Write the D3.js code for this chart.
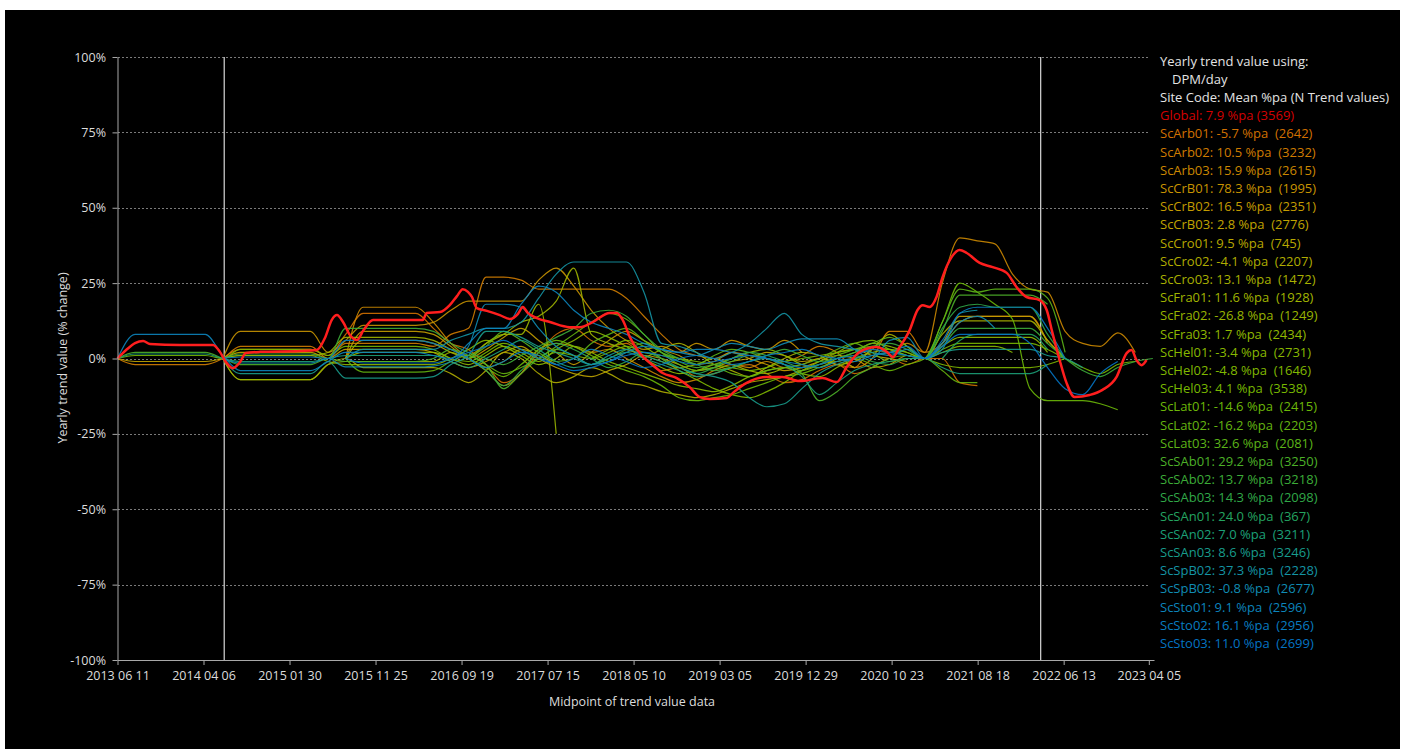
<!DOCTYPE html>
<html>
<head>
<meta charset="utf-8">
<script src="https://cdn.jsdelivr.net/npm/d3@7"></script>
<style>
  html, body { margin: 0; padding: 0; background: #ffffff; }
  svg { display: block; }
  text { font-family: "Open Sans", "Noto Sans", sans-serif; }
</style>
</head>
<body>
<svg id="chart" width="1405" height="749"></svg>
<script>
const _ = null;

// ---- axes ----
const xDomain = ["2013-06-11", "2023-04-23"];
const xTickLabels = ["2013 06 11", "2014 04 06", "2015 01 30", "2015 11 25", "2016 09 19", "2017 07 15",
  "2018 05 10", "2019 03 05", "2019 12 29", "2020 10 23", "2021 08 18", "2022 06 13", "2023 04 05"];
const yTickValues = [100, 75, 50, 25, 0, -25, -50, -75, -100];
const markerDates = ["2014-06-17", "2022-03-25"];

// ---- legend header ----
const legendHeader = ["Yearly trend value using:", "DPM/day", "Site Code: Mean %pa (N Trend values)"];

// ---- global trend (days after first midpoint, % change) ----
const globalMean = 7.9;
const globalCount = 3569;
const globalDays = [0,30,61,89,113,217,332,356,377,401,426,446,495,634,693,721,745,763,784,808,832,856,888,982,
  1061,1075,1121,1155,1180,1200,1218,1232,1249,1284,1329,1364,1392,1409,1426,1458,1503,1572,1607,1652,1711,1736,
  1756,1781,1815,1861,1895,1944,1989,2024,2059,2118,2139,2187,2257,2312,2371,2451,2500,2535,2580,2639,2674,2695,
  2719,2754,2781,2799,2823,2847,2868,2900,2927,2952,2997,3042,3091,3125,3160,3205,3230,3250,3275,3299,3327,3379,
  3424,3473,3508,3525,3542,3560,3577];
const globalValues = [0,2.8,5.1,5.8,4.8,4.5,4.5,2.2,-1.2,-3.2,-1.2,1.8,2.2,2.5,2.8,6.8,12.8,14.4,12.1,7.8,6.1,9.5,
  12.8,12.8,12.8,15.1,15.4,17.7,20.7,23.0,22.1,20.4,16.7,15.8,14.4,13.1,14.8,17.1,15.1,13.4,12.1,10.4,10.4,12.1,
  15.1,15.1,12.8,7.1,1.8,-2.2,-4.8,-6.5,-9.5,-12.8,-13.4,-13.1,-11.4,-8.1,-6.1,-6.1,-7.5,-6.5,-7.8,-2.8,2.2,3.8,
  2.2,0.5,3.8,9.5,16.1,17.7,17.1,20.4,27.0,33.7,36.0,35.0,31.7,30.3,28.4,23.7,20.4,19.4,16.1,8.5,-0.5,-8.1,-12.8,
  -12.1,-10.4,-6.1,1.8,2.8,-0.5,-2.2,-0.5];

// ---- sites ----
const siteCodes = ["ScArb01","ScArb02","ScArb03","ScCrB01","ScCrB02","ScCrB03","ScCro01","ScCro02","ScCro03",
  "ScFra01","ScFra02","ScFra03","ScHel01","ScHel02","ScHel03","ScLat01","ScLat02","ScLat03","ScSAb01","ScSAb02",
  "ScSAb03","ScSAn01","ScSAn02","ScSAn03","ScSpB02","ScSpB03","ScSto01","ScSto02","ScSto03"];
const siteMeans = [-5.7,10.5,15.9,78.3,16.5,2.8,9.5,-4.1,13.1,11.6,-26.8,1.7,-3.4,-4.8,4.1,-14.6,-16.2,32.6,29.2,
  13.7,14.3,24.0,7.0,8.6,37.3,-0.8,9.1,16.1,11.0];
const siteCounts = [2642,3232,2615,1995,2351,2776,745,2207,1472,1928,1249,2434,2731,1646,3538,2415,2203,2081,3250,
  3218,2098,367,3211,3246,2228,2677,2596,2956,2699];

// site trend values sampled every 61 days from the first midpoint (null = no data)
const gridStart = "2013-06-11";
const gridStepDays = 61;

const ScArb01 = [_,_,_,_,_,_, 0,3,3,3,3,3,1,8,15,15,15,15,10,5,3,-2,-8,-5,2,8,10,6,4,5,0,-4,-3,-6,-5,-3,-2,-5,-8,-7,-4,-2,-5,-3,0,-2,0,0,-8,-9];
const ScArb02 = [0,-2,-2,-2,-2,-2, 0,4,4,4,4,4, 0,5,5,5,5,5,4, 8,10,27,27,26,23,23,23,23,23,20, 14,8,3,1,0,2,1,0,-1,1, 4,2,-3,0,9,9,2,5,12,14, 14,14,14,5];
const ScArb03 = [_,_,_,_,_,_,_,_,_,_,_,_,_, 0,17,17,17,17,12, 5,0,-4,-9,-5,3,5,4,2,3, 0,-3,-6,-8,-7,-4,-2,-3,-1,-3, -2,0,-2,-3,3,2,5,2,25,40, 39,38,28,23,22,9,5,4,8.5,2];
const ScCrB01 = [_,_,_,_,_,_, 0,9,9,9,9,9,2,6,11,11,11,11,12, 16,19,19,19,19,26,30,24,16,10, 6,3,4,2,5,3,6,4,3,6, 2];
const ScCrB02 = [_,_,_,_,_,_,_,_,_,_,_,_,_, 0,9,9,9,9,8, 4,0,3,7,10,6,2,-2,2,6, 9,6,3,1,-2,-1,2,0,-2,-4, -3,-1,1,0,-3,-2,1,0,5,14, 14,14,14,14,6,0];
const ScCrB03 = [0,-1,-1,-1,-1,-1,0,2,2,2,2,2,0,3,3,3,3,3,2, -1,-3,-1,2,4,0,-3,-5,-6,-4, -2,1,0,-2,-4,-3,-1,0,2,1, -1,0,2,3,1,0,-1];
const ScCro01 = [_,_,_,_,_,_,_,_,_,_,_,_,_, 0,6,6,6,6,5, 2,0,-3,-1,3,1,-2];
const ScCro02 = [_,_,_,_,_,_, 0,-7,-7,-7,-7,-7,-2,0,-3,-3,-3,-3,-3, -5,-8,-4,2,0,-5,-8,-6,-3,-5, -8,-9,-11,-12,-13,-12,-10,-8,-7,-6, -4,-2,-1,-3];
const ScCro03 = [_,_,_,_,_,_,_,_,_,_,_,_,_,_,_,_,_,_,_,_,_,_,_,_,_,_,_,_,_,_, 0,3,5,2,-2,-4,-6,-3,0,2, 1,-2,-1,3,8,4,0,8,12.5,12.5, 12.5,12.5,12.5,6,0];
const ScFra01 = [_,_,_,_,_,_, 0,1,1,1,1,1,2,7,7,7,7,7,6, 3,1,5,8,12,14,19,30,8,5, 3,1,-1,-3,-2,0,-2,-4,-5,-3];
const ScFra02 = [_,_,_,_,_,_, 0,-7,-7,-7,-7,-7,-2,-1,-1,-1,-1,-1,-1, 2,0,5,8,8,18,-25];
const ScFra03 = [_,_,_,_,_,_,_,_,_,_,_,_,_, 0,2,2,2,2,2, 0,-2,1,4,2,-1,3,6,9,7, 4,0,-3,-5,-4,-2,0,2,3,1, -2,-3,0,2,5,4,2,0,4,7, 7,7,7,7,2];
const ScHel01 = [_,_,_,_,_,_, 0,1,1,1,1,1,-1,-2,-2,-2,-2,-2,-2, 0,3,6,4,1,-2,0,4,2,-1, -3,-5,-7,-9,-10,-11,-9,-6,-4,-3, -5,-6,-3,0,2,3,1,0,2,4, 4,4,2];
const ScHel02 = [_,_,_,_,_,_,_,_,_,_,_,_,_,_,_,_,_,_,_,_,_,_,_,_,_,_,_, 0,3, 6,4,0,-4,-7,-10,-12,-13,-11,-8, -4,-1,2,5,6,3,1,0,-2,-3, -3,-3,-3,-3,-2,0];
const ScHel03 = [0,1,1,1,1,1,0,3,3,3,3,3,1,4,4,4,4,4,3, 0,-1,2,5,3,0,2,1,0,2, 4,2,1,0,-1,-2,-3,-4,-3,-1, 0,1,2,3,4,3,2,0,3,5, 5,5,5,5,3,0,-3,-5,-2,-1];
const ScLat01 = [_,_,_,_,_,_,_,_,_,_,_,_,_,_,_,_,_,_,_,_, 0,-3,-6,-2,3,6,4,1,-2,-4, -6,-9,-13,-14,-13,-12,-10,-8,-6,-5, -3,-1,0,-2,-4,-2,0,12,25,22, 18,13,-10,-14,-14,-14,-15,-17];
const ScLat02 = [_,_,_,_,_,_,_,_,_,_,_,_,_, 0,-4.5,-4.5,-4.5,-4.5,-4, -1,1,-2,-5,-3,0,4,8,12,15, 13,8,2,-2,-4,-3,-5,-6,-4,-3, -2,0,3,5,2,-1,0,0,-4,-8, -8];
const ScLat03 = [_,_,_,_,_,_,_,_,_,_,_,_,_,_,_,_,_,_,_,_, 0,4,9,6,2,-1,0,5,8,10, 6,2,0,-2,1,3,2,0,-2,-4, -2,1,3,5,7,4,0,12,23,22, 23,23,23,20,2];
const ScSAb01 = [0,2,2,2,2,2,0,-2,-2,-2,-2,-2,0,-1,-1,-1,-1,-1,0, 3,1,-2,-10,-5,0,3,1,-2,0, 3,5,2,-1,-3,-2,-1,1,0,-2, -5,-14,-11,-6,-3,0,1,0,9,21, 21,21,21,21,18];
const ScSAb02 = [_,_,_,_,_,_, 0,1.5,1.5,1.5,1.5,1.5,0,10,10,10,10,10,9, 5,2,0,-2,1,4,7,10,15,16, 14,8,3,0,-2,-4,-3,-1,1,3, 1,-1,0,2,4,5,3,0,4,10, 10,10,10,10,5,0,-4,-6,-3,-1, 0];
const ScSAb03 = [_,_,_,_,_,_,_,_,_,_,_,_,_,_,_,_,_,_,_,_, 0,-4,-9,-4,2,5,3,0,-3,-1, 2,0,-3,-5,-3,0,2,1,-1,-3, -2,0,1,-1,-2,0,0,10,17,18, 17,17,17,8,0];
const ScSAn01 = [_,_,_,_,_,_,_,_,_,_,_,_,_,_,_,_,_,_,_,_,_,_,_,_,_,_,_,_,_,_,_,_,_,_,_,_,_,_,_,_,_,_,_,_,_,_,_, 0,6,8, 8,8,8,3];
const ScSAn02 = [0,1.5,1.5,1.5,1.5,1.5,0,-1,-1,-1,-1,-1,0,1,1,1,1,1,1, -1,-3,0,3,6,3,-1,-3,-2,0, 2,0,-2,-4,-6,-5,-3,-1,0,-2, -6,-12,-8,-4,-2,-1,0,0,-3,-5, -5,-5,-5,-5,-2];
const ScSAn03 = [_,_,_,_,_,_, 0,-5,-5,-5,-5,-5,-1,-6.5,-6.5,-6.5,-6.5,-6.5,-6, -2,1,9,9,7,4,2,0,-2,1, 3,1,-1,-3,-5,-6,-8,-13,-16,-15, -10,-5,-2,0,1,2,1,0,2,3, 3,3,3,3,1,0,-3];
const ScSpB02 = [_,_,_,_,_,_,_,_,_,_,_,_,_, 0,3,3,3,3,3, 6,8,10,10,12,20,28,32,32,32, 32,22,5,4,2,0,2,5,10,15, 8,5,4,3,2,1,3,0,3,15, 16];
const ScSpB03 = [_,_,_,_,_,_, 0,-1.5,-1.5,-1.5,-1.5,-1.5,0,-2.8,-2.8,-2.8,-2.8,-2.8,-2.5, -1,4,18,18,17,10,4,1,-2,-1, 2,4,3,2,1,3,5,4,3,5, 6.5,6.5,6.5,3,0,6,7,0,5,12, 14,10];
const ScSto01 = [0,8,8,8,8,8,1,-4,-4,-4,-4,-4,-1,2,2,2,2,2,1, 0,5,10,10,18,24,22,16,12,10, 8,5,3,2,3,3,2,1,0,-1, -2,-3,-1,0];
const ScSto02 = [_,_,_,_,_,_, 0,0.5,0.5,0.5,0.5,0.5,0,6,6,6,6,6,5, 3,0,-3,-1,2,1,-2,0,3,1, -1,-3,-2,0,1,0,-2,-1,1,2, 3,1,0,-1,1,2,4,0,6,15, 17,17,17,17,10,0];
const ScSto03 = [_,_,_,_,_,_,_,_,_,_,_,_,_, 0,-1.5,-1.5,-1.5,-1.5,-1.5, 0,2,4,6,3,0,-2,-4,-3,-1, 1,2,1,-1,-2,-1,0,1,0,-2, -3,-2,0,1,3,2,1,0,4,8, 8,8,8,5,-3,-10,-12,-5,-1];

const siteSeries = [ScArb01,ScArb02,ScArb03,ScCrB01,ScCrB02,ScCrB03,ScCro01,ScCro02,ScCro03,ScFra01,ScFra02,
  ScFra03,ScHel01,ScHel02,ScHel03,ScLat01,ScLat02,ScLat03,ScSAb01,ScSAb02,ScSAb03,ScSAn01,ScSAn02,ScSAn03,
  ScSpB02,ScSpB03,ScSto01,ScSto02,ScSto03];

// ---- colours: orange through green to blue across the sites ----
const siteColors = ["#d27000","#d07c00","#cc8800","#c89400","#c49c00","#c0a400","#b8a800","#b0ac00","#a8b000",
  "#a0b400","#98b400","#90b800","#88b800","#80b800","#78b800","#6cb808","#64b410","#5cb418","#4cb028","#3cac38",
  "#30a848","#24a460","#1ca078","#189c8c","#1494a4","#108cb4","#0c84bc","#087cc0","#0474c4"];
const globalLineColor = "#ff1e1e";
const globalTextColor = "#d40000";

// ---- drawing ----
const svg = d3.select("#chart");
const parseISO = d3.timeParse("%Y-%m-%d");
const parseTick = d3.timeParse("%Y %m %d");
const fmtTick = d3.timeFormat("%Y %m %d");

svg.append("rect").attr("x", 5).attr("y", 10).attr("width", 1395).attr("height", 739).attr("fill", "#000");

const x = d3.scaleTime().domain(xDomain.map(parseISO)).range([117.5, 1154]);
const y = d3.scaleLinear().domain([-100, 100]).range([660, 57]);

// dotted gridlines
svg.append("g").selectAll("line")
  .data(yTickValues.filter(v => v > -100))
  .join("line")
  .attr("x1", 118).attr("x2", 1150)
  .attr("y1", d => Math.round(y(d)) + 0.5).attr("y2", d => Math.round(y(d)) + 0.5)
  .attr("stroke", "#7a7a7a").attr("stroke-width", 1).attr("stroke-dasharray", "2,2");

// marker lines
svg.append("g").selectAll("line")
  .data(markerDates.map(parseISO))
  .join("line")
  .attr("x1", d => x(d)).attr("x2", d => x(d))
  .attr("y1", 57).attr("y2", 660)
  .attr("stroke", "#c8c8c8").attr("stroke-width", 1.3);

// site lines
const start = parseISO(gridStart);
const siteDates = d3.range(60).map(i => d3.timeDay.offset(start, i * gridStepDays));
const line = d3.line()
  .defined(d => d.v !== null && d.v !== undefined)
  .x(d => x(d.t)).y(d => y(d.v))
  .curve(d3.curveMonotoneX);

const siteG = svg.append("g").attr("fill", "none");
siteSeries.forEach((vals, k) => {
  const pts = vals.map((v, i) => ({ t: siteDates[i], v: v }));
  siteG.append("path")
    .attr("d", line(pts))
    .attr("stroke", siteColors[k])
    .attr("stroke-width", 1.2)
    .attr("stroke-opacity", 0.9);
});

// global line
const globalPts = globalDays.map((d, i) => ({ t: d3.timeDay.offset(start, d), v: globalValues[i] }));
svg.append("path")
  .attr("d", line(globalPts))
  .attr("fill", "none")
  .attr("stroke", globalLineColor)
  .attr("stroke-width", 2.5);

// axes
const axisColor = "#a8a8a8";
const textColor = "#dcdcdc";

const yAxis = svg.append("g").attr("transform", "translate(117.5,0)")
  .call(d3.axisLeft(y).tickValues(yTickValues).tickFormat(d => d + "%").tickSize(5).tickSizeOuter(0).tickPadding(6.5));
const xAxis = svg.append("g").attr("transform", "translate(0,660)")
  .call(d3.axisBottom(x).tickValues(xTickLabels.map(parseTick)).tickFormat(fmtTick).tickSize(5).tickSizeOuter(0).tickPadding(6));

[yAxis, xAxis].forEach(g => {
  g.select(".domain").attr("stroke", axisColor);
  g.selectAll(".tick line").attr("stroke", axisColor);
  g.selectAll(".tick text").attr("fill", textColor)
    .style("font-size", "12.5px").style("font-family", '"Open Sans", "Noto Sans", sans-serif');
});

// axis titles
svg.append("text")
  .attr("transform", "translate(62,358) rotate(-90)")
  .attr("text-anchor", "middle").attr("dominant-baseline", "central")
  .attr("fill", textColor).style("font-size", "12.5px")
  .text("Yearly trend value (% change)");
svg.append("text")
  .attr("x", 632).attr("y", 706)
  .attr("text-anchor", "middle")
  .attr("fill", textColor).style("font-size", "12.5px")
  .text("Midpoint of trend value data");

// legend
const legendRows = legendHeader.map((t, i) => ({ text: t, color: "#e4e4e4", indent: i === 1 ? 12 : 0 }))
  .concat([{ text: `Global: ${globalMean.toFixed(1)} %pa (${globalCount})`, color: globalTextColor, indent: 0 }])
  .concat(siteCodes.map((c, k) => ({
    text: `${c}: ${siteMeans[k].toFixed(1)} %pa  (${siteCounts[k]})`,
    color: siteColors[k],
    indent: 0
  })));

svg.append("g").selectAll("text")
  .data(legendRows)
  .join("text")
  .attr("x", d => 1160 + d.indent)
  .attr("y", (d, i) => 65.5 + i * 18.2)
  .attr("fill", d => d.color)
  .style("font-size", "13px")
  .style("white-space", "pre")
  .text(d => d.text);
</script>
</body>
</html>
